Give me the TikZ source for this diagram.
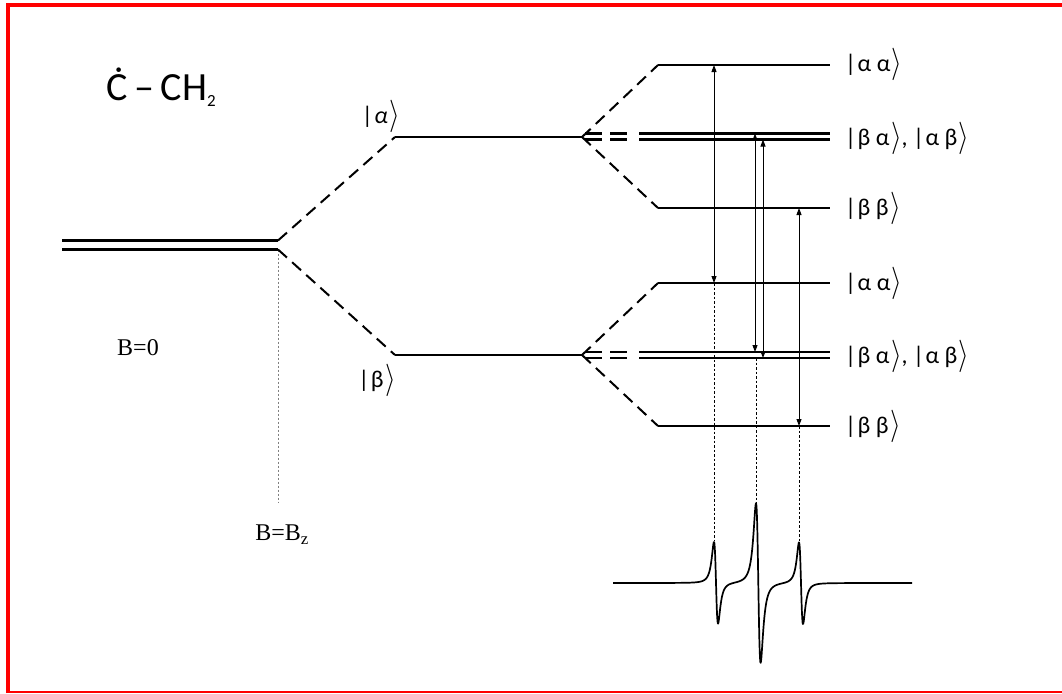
\documentclass[tikz,border=0pt]{standalone}
\usepackage{fontspec}
\usepackage{graphicx}
\setmainfont{Liberation Serif}
\newfontfamily\calfont{Carlito}
\usetikzlibrary{arrows.meta}
\newcommand\rang{\kern1.5pt\raisebox{-1pt}{\scalebox{1.1}[1.3]{$\rangle$}}}
\newcommand\ketlab[1]{{\calfont\fontsize{24}{28}\selectfont|\kern1.5pt#1\rang}}
\newcommand\ketpair[2]{{\calfont\fontsize{24}{28}\selectfont\ketlab{#1},\ \ketlab{#2}}}
\begin{document}
\begin{tikzpicture}[x=1pt,y=-1pt,
  declare function={lz(\x,\c,\w,\a)=2*\a*((\x-\c)/\w)/(1+((\x-\c)/\w)^2)/(1+((\x-\c)/\w)^2);},
  level/.style={line width=1.8pt},
  dbl/.style={line width=2.4pt},
  dlev/.style={line width=2pt, dash pattern=on 12pt off 7pt},
  ddbl/.style={line width=2.2pt, dash pattern=on 17pt off 8pt},
  trans/.style={line width=0.9pt, {Triangle[length=7pt,width=5pt]}-{Triangle[length=7pt,width=5pt]}},
  guide/.style={line width=1pt, dash pattern=on 2.5pt off 2pt},
  lbl/.style={anchor=west, inner sep=0pt},
  frame/.style={red, line width=4pt}]
\useasboundingbox (0,0) rectangle (1062,693);
\fill[white] (0,0) rectangle (1062,693);
% frame
\draw[frame] (7.5,693) -- (7.5,5) -- (1062,5);
\draw[red, line width=2pt] (6,691.5) -- (1062,691.5);

% zero-field level
\coordinate (L0a) at (62,240.5); \coordinate (S0a) at (278,240.5);
\coordinate (L0b) at (62,249.5); \coordinate (S0b) at (278,249.5);
\draw[dbl] (L0a) -- (S0a);
\draw[dbl] (L0b) -- (S0b);
\coordinate (Bz) at (278,503);
\draw[gray, line width=1pt, dash pattern=on 2pt off 2pt] (S0b) -- (Bz);

% electron levels
\coordinate (Aa) at (395,137); \coordinate (Ab) at (582,137);
\coordinate (Ba) at (395,355); \coordinate (Bb) at (582,355);
\draw[dlev] (S0a) -- (Aa);
\draw[dlev] (S0b) -- (Ba);
\draw[level] (Aa) -- (Ab);
\draw[level] (Ba) -- (Bb);

% upper hyperfine group
\coordinate (UT1) at (658,65);  \coordinate (UT2) at (830,65);
\coordinate (UB1) at (658,208); \coordinate (UB2) at (830,208);
\draw[dlev] (Ab) -- (UT1);
\draw[dlev] (Ab) -- (UB1);
\draw[level] (UT1) -- (UT2);
\draw[level] (UB1) -- (UB2);
\coordinate (UMa0) at (585,133.5); \coordinate (UMa1) at (627,133.5);
\coordinate (UMa2) at (639,133.5); \coordinate (UMa3) at (830,133.5);
\coordinate (UMb0) at (585,139.5); \coordinate (UMb1) at (627,139.5);
\coordinate (UMb2) at (639,139.5); \coordinate (UMb3) at (830,139.5);
\draw[ddbl] (UMa0) -- (UMa1);
\draw[ddbl] (UMb0) -- (UMb1);
\draw[dbl] (UMa2) -- (UMa3);
\draw[dbl] (UMb2) -- (UMb3);

% lower hyperfine group
\coordinate (LT1) at (658,283); \coordinate (LT2) at (830,283);
\coordinate (LB1) at (658,426); \coordinate (LB2) at (830,426);
\draw[dlev] (Bb) -- (LT1);
\draw[dlev] (Bb) -- (LB1);
\draw[level] (LT1) -- (LT2);
\draw[level] (LB1) -- (LB2);
\coordinate (LMa0) at (585,352); \coordinate (LMa1) at (627,352);
\coordinate (LMa2) at (639,352); \coordinate (LMa3) at (830,352);
\coordinate (LMb0) at (585,358); \coordinate (LMb1) at (627,358);
\coordinate (LMb2) at (639,358); \coordinate (LMb3) at (830,358);
\draw[ddbl] (LMa0) -- (LMa1);
\draw[ddbl] (LMb0) -- (LMb1);
\draw[dbl] (LMa2) -- (LMa3);
\draw[dbl] (LMb2) -- (LMb3);

% transitions
\coordinate (T1a) at (714,65);    \coordinate (T1b) at (714,283);
\coordinate (T2a) at (755,133.5); \coordinate (T2b) at (755,352);
\coordinate (T3a) at (763,139.5); \coordinate (T3b) at (763,358);
\coordinate (T4a) at (799,208);   \coordinate (T4b) at (799,426);
\draw[trans] (T1a) -- (T1b);
\draw[trans] (T2a) -- (T2b);
\draw[trans] (T3a) -- (T3b);
\draw[trans] (T4a) -- (T4b);

% spectrum
\coordinate (P1) at (714,541);
\coordinate (P2) at (756,513);
\coordinate (P3) at (799,541);
\draw[guide] (T1b) -- (P1);
\draw[guide] (T3b -| P2) -- (P2);
\draw[guide] (T4b) -- (P3);
\draw[line width=1.7pt, line join=round]
  plot[domain=613:912, samples=900]
  (\x,{583+lz(\x,716,3.5,63)+lz(\x,758.3,4,123)+lz(\x,801,3.5,63)});

% labels
\node[anchor=base west, inner sep=0pt] (title) at (106,100)
  {\calfont\fontsize{40}{48}\selectfont Ċ\,–\,CH\raisebox{-6pt}{\fontsize{17}{17}\selectfont 2}};
\node (ka) at (381,116) {{\calfont\fontsize{24}{28}\selectfont|\kern1.5pt\itshape α\upshape\rang}};
\node (kb) at (377,380) {\ketlab{β}};
\node (b0) at (138,348) {\fontsize{24}{28}\selectfont B=0};
\node (bz) at (282,535) {\fontsize{24}{28}\selectfont B=B\textsubscript{z}};
\node[lbl] (u1) at (845,64) {\ketlab{α\ α}};
\node[lbl] (u2) at (845,138) {\ketpair{β α}{α\ β}};
\node[lbl] (u3) at (845,208) {\ketlab{β β}};
\node[lbl] (l1) at (845,283) {\ketlab{α\ α}};
\node[lbl] (l2) at (845,356) {\ketpair{β α}{α\ β}};
\node[lbl] (l3) at (845,426) {\ketlab{β β}};
\end{tikzpicture}
\end{document}
